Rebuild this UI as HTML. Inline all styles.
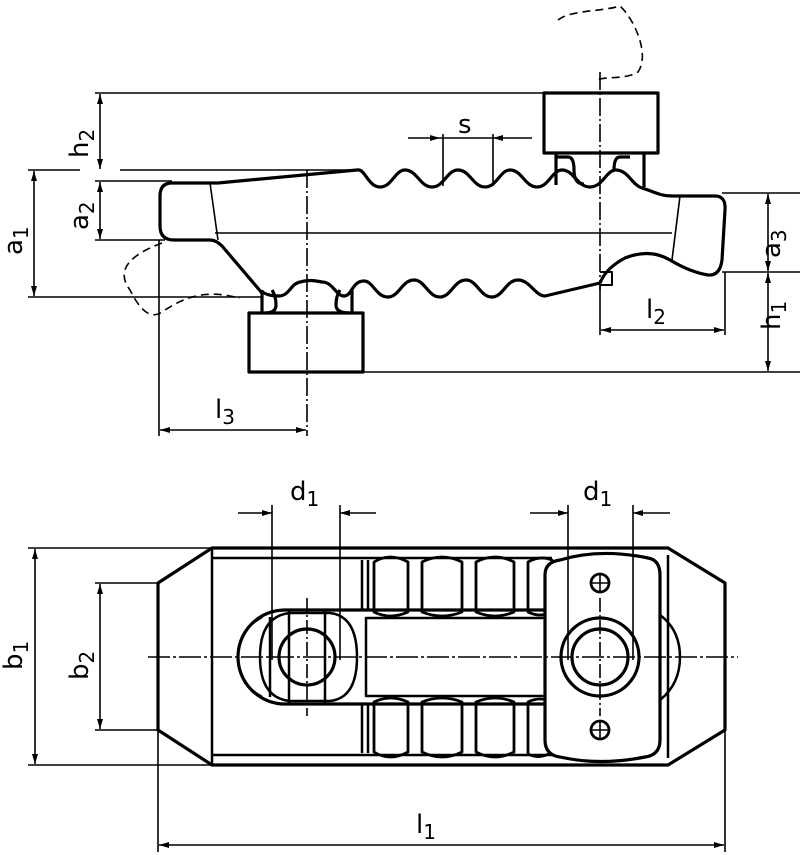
<!DOCTYPE html>
<html><head><style>
html,body{margin:0;padding:0;background:#fff;}
svg{display:block}
text{font-family:"DejaVu Sans","Liberation Sans",sans-serif;fill:#000;}
</style></head><body>
<svg width="800" height="855" viewBox="0 0 800 855" xmlns="http://www.w3.org/2000/svg">
<defs>
<marker id="a" viewBox="0 0 10 6" refX="10" refY="3" markerWidth="10" markerHeight="6" orient="auto-start-reverse" markerUnits="userSpaceOnUse">
<path d="M0,0 L10,3 L0,6 z" fill="#000"/></marker>
</defs>
<g fill="none" stroke="#000" stroke-width="1.6">
<line x1="95" y1="93" x2="545" y2="93"/>
<line x1="28" y1="170" x2="80" y2="170"/>
<line x1="120" y1="170" x2="360" y2="170"/>
<line x1="95" y1="181" x2="172" y2="181"/>
<line x1="95" y1="240" x2="165" y2="240"/>
<line x1="28" y1="297" x2="262" y2="297"/>
<line x1="363" y1="372" x2="800" y2="372"/>
<line x1="722" y1="193" x2="800" y2="193"/>
<line x1="722" y1="272" x2="800" y2="272"/>
<line x1="159" y1="240" x2="159" y2="436"/>
<line x1="725" y1="272" x2="725" y2="335"/>
<line x1="600" y1="285" x2="600" y2="335"/>
<line x1="215" y1="233" x2="672" y2="233"/>
<line x1="100" y1="94" x2="100" y2="169" marker-start="url(#a)" marker-end="url(#a)"/>
<line x1="100" y1="182" x2="100" y2="239" marker-start="url(#a)" marker-end="url(#a)"/>
<line x1="34" y1="171" x2="34" y2="296" marker-start="url(#a)" marker-end="url(#a)"/>
<line x1="768" y1="194" x2="768" y2="271" marker-start="url(#a)" marker-end="url(#a)"/>
<line x1="768" y1="273" x2="768" y2="371" marker-start="url(#a)" marker-end="url(#a)"/>
<line x1="601" y1="330" x2="724" y2="330" marker-start="url(#a)" marker-end="url(#a)"/>
<line x1="160" y1="430" x2="306" y2="430" marker-start="url(#a)" marker-end="url(#a)"/>
<line x1="408" y1="138" x2="440" y2="138" marker-end="url(#a)"/>
<line x1="532" y1="138" x2="493" y2="138" marker-end="url(#a)"/>
<line x1="440" y1="138" x2="493" y2="138"/>
<line x1="443" y1="134" x2="443" y2="186"/>
<line x1="493" y1="134" x2="493" y2="186"/>
<line x1="307" y1="170" x2="307" y2="436" stroke-dasharray="18,3,2,3"/>
<line x1="600" y1="72" x2="600" y2="290" stroke-dasharray="18,3,2,3"/>
<path d="M558,20 C570,10 600,12 620,6 C635,20 650,55 638,72 C625,80 605,76 597,80" stroke-dasharray="8,5"/>
<path d="M162,243 C130,255 115,270 130,290 C140,310 150,320 162,312 C180,300 200,290 230,296 L240,298" stroke-dasharray="8,5"/>
</g>
<g fill="none" stroke="#000" stroke-width="3.2" stroke-linejoin="round">
<rect x="544" y="93" width="114" height="60"/>
<path d="M556,153 L556,185 M644,153 L644,187"/>
<path d="M556,157 L568,157 Q574,157 574,170 Q574,184 584,184 M630,157 L620,157 Q614,157 614,170"/>
<path d="M218,183 L357,170 C365,168 368,187 380,187 C392,187 395,170 405,170 C417,170 420,187 432,187 C444,187 447,170 458,170 C470,170 473,187 485,187 C497,187 500,170 510,170 C522,170 525,187 537,187 C549,187 552,170 562,170 C574,170 577,187 590,187 C603,187 606,170 616,170 C628,170 632,185 642,188 C655,192 660,196 672,196"/>
<path d="M218,183 L172,183 Q160,183 160,196 L160,226 Q160,240 174,240 L210,240 Q216,240 222,246 L262,293"/>
<line x1="210" y1="183" x2="218" y2="240" stroke-width="1.6"/>
<path d="M672,196 L715,196 Q726,196 725,210 L722,260 Q720,276 708,275 Q690,272 670,260 Q650,248 625,258 Q606,268 600,283"/>
<line x1="680" y1="196" x2="672" y2="260" stroke-width="1.6"/>
<path d="M600,272 L612,272 L612,285 L600,285" stroke-width="2"/>
<path d="M600,283 L545,296 C535,296 530,280 518,280 C506,280 503,297 492,297 C480,297 477,280 466,280 C454,280 451,297 440,297 C428,297 425,280 414,280 C402,280 399,297 388,297 C376,297 373,281 364,281 C352,281 352,296 344,296 C336,296 333,282 322,282 C312,280 308,280 300,282 C290,284 290,296 278,296 C270,296 266,294 262,292"/>
<rect x="249" y="313" width="114" height="59"/>
<path d="M262,290 L262,313 M352,290 L352,313"/>
<path d="M272,290 Q276,296 276,305 Q276,313 265,313 M340,290 Q336,296 336,305 Q336,313 350,313"/>
<!-- bottom view -->
<path d="M158,583 L212,548 L668,548 L725,583 L725,730 L668,765 L212,765 L158,730 Z"/>
<line x1="212" y1="548" x2="212" y2="765" stroke-width="2.5"/>
<line x1="212" y1="558" x2="552" y2="558" stroke-width="2.5"/>
<line x1="212" y1="755" x2="552" y2="755" stroke-width="2.5"/>
<line x1="668" y1="555" x2="668" y2="758" stroke-width="2.5"/>
<line x1="655" y1="560" x2="655" y2="752" stroke-width="2.5"/>
<line x1="362" y1="560" x2="362" y2="610" stroke-width="2.5"/>
<line x1="368" y1="560" x2="368" y2="610" stroke-width="2.5"/>
<line x1="362" y1="704" x2="362" y2="753" stroke-width="2.5"/>
<line x1="368" y1="704" x2="368" y2="753" stroke-width="2.5"/>
<!-- barrels -->
<g stroke-width="2.8">
<path d="M374,562 Q390,552 408,562 L408,612 Q390,620 374,612 Z"/>
<path d="M422,562 Q442,552 462,562 L462,612 Q442,620 422,612 Z"/>
<path d="M476,562 Q495,552 514,562 L514,612 Q495,620 476,612 Z"/>
<path d="M528,562 Q540,555 552,560 L552,612 Q540,618 528,612 Z"/>
<path d="M374,702 Q390,694 408,702 L408,752 Q390,762 374,752 Z"/>
<path d="M422,702 Q442,694 462,702 L462,752 Q442,762 422,752 Z"/>
<path d="M476,702 Q495,694 514,702 L514,752 Q495,762 476,752 Z"/>
<path d="M528,702 Q540,696 552,702 L552,752 Q540,760 528,754 Z"/>
</g>
<path d="M550,610 L285,610 A47,47 0 0 0 285,704 L550,704"/>
<path d="M550,618 L366,618 L366,696 L550,696" stroke-width="2.5"/>
<path d="M262,617 Q238,630 238,657 Q238,684 262,697 M270,617 L270,697" stroke-width="2.5"/>
<path d="M290,613 L330,613 Q357,616 357,657 Q357,698 330,701 L290,701 Q260,698 260,657 Q260,616 290,613 Z" stroke-width="2.5"/>
<rect x="289" y="610" width="36" height="94" stroke-width="2.5"/>
<circle cx="307" cy="657" r="28"/>
<path d="M560,560 Q600,548 648,558 Q660,560 660,575 L660,740 Q660,755 645,757 Q600,766 560,757 Q545,755 545,740 L545,575 Q545,562 560,560 Z" fill="#fff"/>
<path d="M660,615 Q680,630 680,657 Q680,684 660,700" stroke-width="2.5"/>
<circle cx="600" cy="657" r="39"/>
<circle cx="600" cy="657" r="28"/>
<circle cx="600" cy="583" r="9" stroke-width="2.8"/>
<circle cx="600" cy="730" r="9" stroke-width="2.8"/>
</g>
<g fill="none" stroke="#000" stroke-width="1.6">
<line x1="148" y1="657" x2="738" y2="657" stroke-dasharray="22,3,3,3"/>
<line x1="307" y1="598" x2="307" y2="716" stroke-dasharray="14,3,2,3"/>
<line x1="600" y1="598" x2="600" y2="716" stroke-dasharray="14,3,2,3"/>
<path d="M591,583 h18 M600,574 v18 M591,730 h18 M600,721 v18"/>
<line x1="28" y1="548" x2="212" y2="548"/>
<line x1="28" y1="765" x2="212" y2="765"/>
<line x1="95" y1="583" x2="158" y2="583"/>
<line x1="95" y1="730" x2="158" y2="730"/>
<line x1="35" y1="549" x2="35" y2="764" marker-start="url(#a)" marker-end="url(#a)"/>
<line x1="100" y1="584" x2="100" y2="729" marker-start="url(#a)" marker-end="url(#a)"/>
<line x1="158" y1="730" x2="158" y2="852"/>
<line x1="725" y1="730" x2="725" y2="852"/>
<line x1="159" y1="845" x2="724" y2="845" marker-start="url(#a)" marker-end="url(#a)"/>
<line x1="272" y1="505" x2="272" y2="660"/>
<line x1="340" y1="505" x2="340" y2="660"/>
<line x1="238" y1="513" x2="272" y2="513" marker-end="url(#a)"/>
<line x1="376" y1="513" x2="340" y2="513" marker-end="url(#a)"/>
<line x1="568" y1="505" x2="568" y2="660"/>
<line x1="633" y1="505" x2="633" y2="660"/>
<line x1="530" y1="513" x2="568" y2="513" marker-end="url(#a)"/>
<line x1="670" y1="513" x2="633" y2="513" marker-end="url(#a)"/>
</g>
<g font-size="26">
<text x="458" y="133">s</text>
<text x="646" y="318">l<tspan font-size="20" dy="6">2</tspan></text>
<text x="215" y="418">l<tspan font-size="20" dy="6">3</tspan></text>
<text x="416" y="833">l<tspan font-size="20" dy="6">1</tspan></text>
<text x="290" y="500">d<tspan font-size="20" dy="6">1</tspan></text>
<text x="583" y="500">d<tspan font-size="20" dy="6">1</tspan></text>
<text transform="translate(88,158) rotate(-90)">h<tspan font-size="20" dy="6">2</tspan></text>
<text transform="translate(88,230) rotate(-90)">a<tspan font-size="20" dy="6">2</tspan></text>
<text transform="translate(22,255) rotate(-90)">a<tspan font-size="20" dy="6">1</tspan></text>
<text transform="translate(780,258) rotate(-90)">a<tspan font-size="20" dy="6">3</tspan></text>
<text transform="translate(780,330) rotate(-90)">h<tspan font-size="20" dy="6">1</tspan></text>
<text transform="translate(22,670) rotate(-90)">b<tspan font-size="20" dy="6">1</tspan></text>
<text transform="translate(88,680) rotate(-90)">b<tspan font-size="20" dy="6">2</tspan></text>
</g>
</svg>
</body></html>
